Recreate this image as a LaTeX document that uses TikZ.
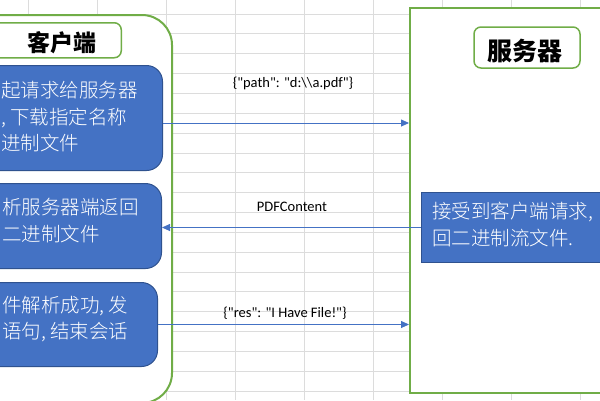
\documentclass[tikz,border=0pt]{standalone}
\usepackage{fontspec}
\setmainfont{Carlito}
\newfontfamily\cjk{Noto Sans CJK SC}
\newfontfamily\cjklight{Noto Sans CJK SC Light}
\newfontfamily\labelfont{Carlito}
\usepackage{xcolor}
\usetikzlibrary{arrows.meta}
\definecolor{sheetgrid}{HTML}{DCDCDC}
\definecolor{panelgreen}{HTML}{70AD47}
\definecolor{boxblue}{HTML}{4472C4}
\definecolor{boxedge}{HTML}{2F528F}
\tikzstyle{sheetline} = [draw=sheetgrid, line width=0.9pt]
\tikzstyle{panel} = [rectangle, draw=panelgreen, line width=2pt, fill=white]
\tikzstyle{heading} = [rectangle, rounded corners=7pt, draw=panelgreen, line width=1.5pt,
fill=white]
\tikzstyle{headtext} = [inner sep=0pt, text=black, font=\cjk\bfseries\fontsize{23}{28}\selectfont]
\tikzstyle{bluebox} = [rectangle, draw=boxedge, line width=1pt, fill=boxblue]
\tikzstyle{boxtext} = [inner sep=0pt, text=white, align=left,
font=\cjklight\fontsize{19.5}{26.5}\selectfont]
\tikzstyle{msg} = [draw=boxblue, line width=0.8pt, -{Triangle[length=8pt,width=7pt]}]
\tikzstyle{msglabel} = [inner sep=0pt, font=\labelfont\fontsize{14.5}{17}\selectfont]

\begin{document}
\begin{tikzpicture}[x=1pt, y=-1pt]
        \useasboundingbox (0,0) rectangle (600,400);

        % Spreadsheet grid behind everything
        \foreach \i in {0,...,8}
            \draw[sheetline] (28+69.1*\i,0) -- (28+69.1*\i,400);
        \foreach \j in {0,...,19}
            \draw[sheetline] (0,14+19.85*\j) -- (600,14+19.85*\j);

        % Client and server frames
        \node[panel, rounded corners=30pt, minimum width=240pt, minimum height=388pt,
            anchor=north east] at (173,14) (client) {};
        \node[panel, minimum width=220pt, minimum height=385pt, anchor=north west]
            at (409,7) (server) {};

        % Headings
        \node[heading, minimum width=170pt, minimum height=35pt, anchor=north east]
            at (122,22) (clienthead) {};
        \node[headtext] at (62,43) (clientname) {客户端};
        \node[heading, minimum width=106pt, minimum height=41pt] at (527,47.5) (serverhead) {};
        \node[headtext, font=\cjk\bfseries\fontsize{25}{30}\selectfont] at (525,51)
            (servername) {服务器};

        % Client steps
        \node[bluebox, rounded corners=16pt, minimum width=200pt, minimum height=105pt,
            anchor=north east] at (163,65) (box1) {};
        \node[boxtext, anchor=west] at (1,117) (box1text) {起请求给服务器\\, 下载指定名称\\进制文件};

        \node[bluebox, rounded corners=16pt, minimum width=200pt, minimum height=85pt,
            anchor=north east] at (162,183) (box2) {};
        \node[boxtext, anchor=west] at (2,220.5) (box2text) {析服务器端返回\\二进制文件};

        \node[bluebox, rounded corners=16pt, minimum width=200pt, minimum height=84pt,
            anchor=north east] at (158,282) (box3) {};
        \node[boxtext, anchor=west] at (2,319) (box3text) {件解析成功, 发\\语句, 结束会话};

        % Server step
        \node[bluebox, minimum width=200pt, minimum height=70pt, anchor=north west]
            at (421,192) (srvbox) {};
        \node[boxtext, anchor=west] at (432,224.5) (srvtext) {接受到客户端请求,\\回二进制流文件.};

        % Messages
        \coordinate (req) at ([yshift=-5pt]box1.east);
        \draw[msg] (req) -- (req -| server.west);
        \draw (293,83) node[msglabel] (reqlabel) {\{"path": "d:\textbackslash\textbackslash a.pdf"\}};

        \draw[msg] (srvbox.west) -- (srvbox.west -| box2.east);
        \draw (292,207) node[msglabel] (pdflabel) {PDFContent};

        \draw[msg] (box3.east) -- (box3.east -| server.west);
        \draw (285,313) node[msglabel] (reslabel) {\{"res": "I Have File!"\}};
    \end{tikzpicture}
\end{document}
